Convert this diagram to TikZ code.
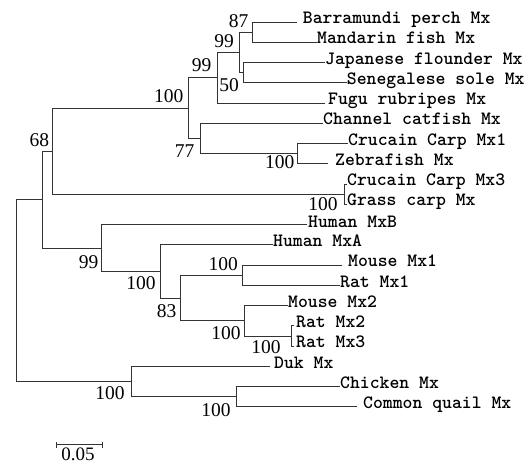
\documentclass[tikz,border=0pt]{standalone}
\usepackage{fontspec}
\newfontfamily\numfont{Liberation Serif}
\begin{document}
\begin{tikzpicture}[x=1pt,y=-1pt,
  br/.style={draw=black!80,line width=1pt},
  lab/.style={font=\ttfamily\bfseries\fontsize{18.8}{20}\selectfont,inner sep=0pt,anchor=base west},
  bs/.style={font=\numfont\fontsize{19.5}{20}\selectfont,inner sep=0pt,anchor=center}]
\useasboundingbox (0,0) rectangle (529,463);
% leaf ends
\coordinate (e0) at (296.7,22.0);
\coordinate (e1) at (317,42.3);
\coordinate (e2) at (325,62.5);
\coordinate (e3) at (346.7,82.8);
\coordinate (e4) at (325,103.0);
\coordinate (e5) at (323,123.3);
\coordinate (e6) at (348,143.6);
\coordinate (e7) at (328,163.8);
\coordinate (e8) at (347,184.1);
\coordinate (e9) at (347,204.3);
\coordinate (e10) at (306.7,224.6);
\coordinate (e11) at (273,244.9);
\coordinate (e12) at (341.7,265.1);
\coordinate (e13) at (340,285.4);
\coordinate (e14) at (288,305.6);
\coordinate (e15) at (294,325.9);
\coordinate (e16) at (294,346.2);
\coordinate (e17) at (270,366.4);
\coordinate (e18) at (340,386.7);
\coordinate (e19) at (356.7,406.9);
% internal nodes
\coordinate (A) at (252,32.15);
\coordinate (B) at (243.5,72.65);
\coordinate (C) at (239.5,52.4);
\coordinate (D) at (217,77.7);
\coordinate (E) at (297.7,153.7);
\coordinate (F) at (200,138.5);
\coordinate (G) at (188.7,108.1);
\coordinate (H) at (344.3,194.2);
\coordinate (I) at (52.7,151.15);
\coordinate (J) at (242,275.25);
\coordinate (K) at (291,336.05);
\coordinate (L) at (244.7,320.8);
\coordinate (M) at (180.7,298);
\coordinate (N) at (160,271.45);
\coordinate (O) at (101.7,248);
\coordinate (P) at (42.7,199.6);
\coordinate (Q) at (236,396.8);
\coordinate (R) at (131.7,381.6);
\coordinate (root) at (16,290.6);
% branches
\draw[br] (e0) -| (A); \draw[br] (e1) -| (A);
\draw[br] (e2) -| (B); \draw[br] (e3) -| (B);
\draw[br] (A) -| (C); \draw[br] (B) -| (C);
\draw[br] (C) -| (D); \draw[br] (e4) -| (D);
\draw[br] (e6) -| (E); \draw[br] (e7) -| (E);
\draw[br] (e5) -| (F); \draw[br] (E) -| (F);
\draw[br] (D) -| (G); \draw[br] (F) -| (G);
\draw[br] (e8) -| (H); \draw[br] (e9) -| (H);
\draw[br] (G) -| (I); \draw[br] (H) -| (I);
\draw[br] (e12) -| (J); \draw[br] (e13) -| (J);
\draw[br] (e15) -| (K); \draw[br] (e16) -| (K);
\draw[br] (e14) -| (L); \draw[br] (K) -| (L);
\draw[br] (J) -| (M); \draw[br] (L) -| (M);
\draw[br] (e11) -| (N); \draw[br] (M) -| (N);
\draw[br] (e10) -| (O); \draw[br] (N) -| (O);
\draw[br] (I) -| (P); \draw[br] (O) -| (P);
\draw[br] (e18) -| (Q); \draw[br] (e19) -| (Q);
\draw[br] (e17) -| (R); \draw[br] (Q) -| (R);
\draw[br] (P) -| (root); \draw[br] (R) -| (root);
% leaf labels
\node[lab] (t0) at (302.7,23.6) {Barramundi perch Mx};
\node[lab] (t1) at (317,43.9) {Mandarin fish Mx};
\node[lab] (t2) at (325,64.1) {Japanese flounder Mx};
\node[lab] (t3) at (346.7,84.4) {Senegalese sole Mx};
\node[lab] (t4) at (328,104.6) {Fugu rubripes Mx};
\node[lab] (t5) at (323,124.9) {Channel catfish Mx};
\node[lab] (t6) at (348,145.2) {Crucain Carp Mx1};
\node[lab] (t7) at (335,165.4) {Zebrafish Mx};
\node[lab] (t8) at (347,185.7) {Crucain Carp Mx3};
\node[lab] (t9) at (347,205.9) {Grass carp Mx};
\node[lab] (t10) at (308,227) {Human MxB};
\node[lab] (t11) at (273,246.5) {Human MxA};
\node[lab] (t12) at (348,266.7) {Mouse Mx1};
\node[lab] (t13) at (340,287.0) {Rat Mx1};
\node[lab] (t14) at (288,307.2) {Mouse Mx2};
\node[lab] (t15) at (296,327.5) {Rat Mx2};
\node[lab] (t16) at (296,347.8) {Rat Mx3};
\node[lab] (t17) at (274,368.0) {Duk Mx};
\node[lab] (t18) at (340,388.3) {Chicken Mx};
\node[lab] (t19) at (363,408.5) {Common quail Mx};
% bootstrap values
\node[bs] (bA) at (238.7,21) {87};
\node[bs] (bC) at (224,41) {99};
\node[bs] (bD) at (201.7,65.5) {99};
\node[bs] (bB) at (229,85.5) {50};
\node[bs] (bG) at (168.7,96) {100};
\node[bs] (bF) at (184.5,151.5) {77};
\node[bs] (bP) at (39.3,140) {68};
\node[bs] (bE) at (279.7,162.5) {100};
\node[bs] (bH) at (323,204.5) {100};
\node[bs] (bO) at (88.7,262) {99};
\node[bs] (bN) at (141,283) {100};
\node[bs] (bM) at (166.7,311) {83};
\node[bs] (bJ) at (223.3,264) {100};
\node[bs] (bL) at (226,333) {100};
\node[bs] (bK) at (266,347.5) {100};
\node[bs] (bR) at (110,393) {100};
\node[bs] (bQ) at (216,410) {100};
% scale bar
\coordinate (s1) at (56.7,444);
\coordinate (s2) at (102.3,444);
\draw[br] (s1) -- (s2);
\draw[br] (s1) ++(0,-2) -- ++(0,6);
\draw[br] (s2) ++(0,-2) -- ++(0,6);
\node[font=\numfont\fontsize{19}{20}\selectfont,inner sep=0pt,anchor=base] (sc) at (78,460) {0.05};
\end{tikzpicture}
\end{document}
